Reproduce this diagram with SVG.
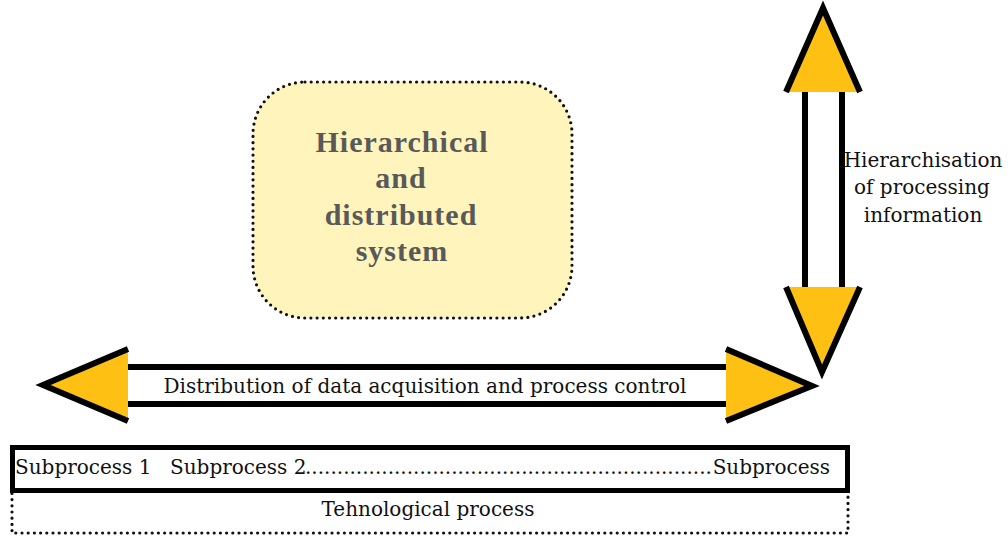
<svg xmlns="http://www.w3.org/2000/svg" width="1008" height="537" viewBox="0 0 1008 537">
<style>
.lbl{font-size:20px;fill:#111}
.big{font-size:30px;font-weight:bold;fill:#595959;letter-spacing:1px}
.dot{fill:none;stroke:#111;stroke-width:3.2;stroke-dasharray:0 6.2;stroke-linecap:round}
.head{fill:#FDC013;stroke:none}
.edge{fill:none;stroke:#000;stroke-width:6;stroke-linejoin:miter}
.shaft{stroke:#000;stroke-width:6}
</style>
<rect width="1008" height="537" fill="#fff"/>
<g id="system" font-family="Liberation Serif, DejaVu Serif, serif">
<rect x="253" y="82" width="319" height="236" rx="52" class="dot" style="fill:#FFF4BC"/>
<text class="big" x="402" y="152" text-anchor="middle">Hierarchical</text>
<text class="big" x="401" y="188" text-anchor="middle">and</text>
<text class="big" x="401" y="225" text-anchor="middle">distributed</text>
<text class="big" x="402" y="261" text-anchor="middle">system</text>
</g>
<g id="connectors" font-family="DejaVu Serif, serif">
<g id="horizontal-arrow">
<polygon class="head" points="128,349 43,385 128,421"/>
<polyline class="edge" points="128,349 43,385 128,421"/>
<polygon class="head" points="726,349 812,386 726,421"/>
<polyline class="edge" points="726,349 812,386 726,421"/>
<line class="shaft" x1="128" y1="367" x2="726" y2="367"/>
<line class="shaft" x1="128" y1="404" x2="726" y2="404"/>
<text class="lbl" x="425" y="393" text-anchor="middle">Distribution of data acquisition and process control</text>
</g>
<g id="vertical-arrow">
<polygon class="head" points="786,92 823,8 860,92"/>
<polyline class="edge" points="786,92 823,8 860,92"/>
<polygon class="head" points="786,287 822,372 860,287"/>
<polyline class="edge" points="786,287 822,372 860,287"/>
<line class="shaft" x1="805" y1="92" x2="805" y2="287"/>
<line class="shaft" x1="842" y1="92" x2="842" y2="287"/>
</g>
</g>
<g id="hier-label" font-family="DejaVu Serif, serif">
<text class="lbl" x="923" y="167" text-anchor="middle">Hierarchisation</text>
<text class="lbl" x="922" y="194" text-anchor="middle">of processing</text>
<text class="lbl" x="923" y="222" text-anchor="middle">information</text>
</g>
<g id="tech-process" font-family="DejaVu Serif, serif">
<rect x="12" y="490" width="836" height="43" class="dot"/>
<text class="lbl" x="428" y="516" text-anchor="middle">Tehnological process</text>
</g>
<g id="subprocesses" font-family="DejaVu Serif, serif">
<rect x="12.5" y="447.5" width="835" height="43" fill="#fff" stroke="#000" stroke-width="5"/>
<text class="lbl" x="15" y="474">Subprocess 1</text>
<text class="lbl" x="170" y="474">Subprocess 2</text>
<text class="lbl" x="305" y="474">................................................................</text>
<text class="lbl" x="830" y="474" text-anchor="end">Subprocess</text>
</g>
</svg>
